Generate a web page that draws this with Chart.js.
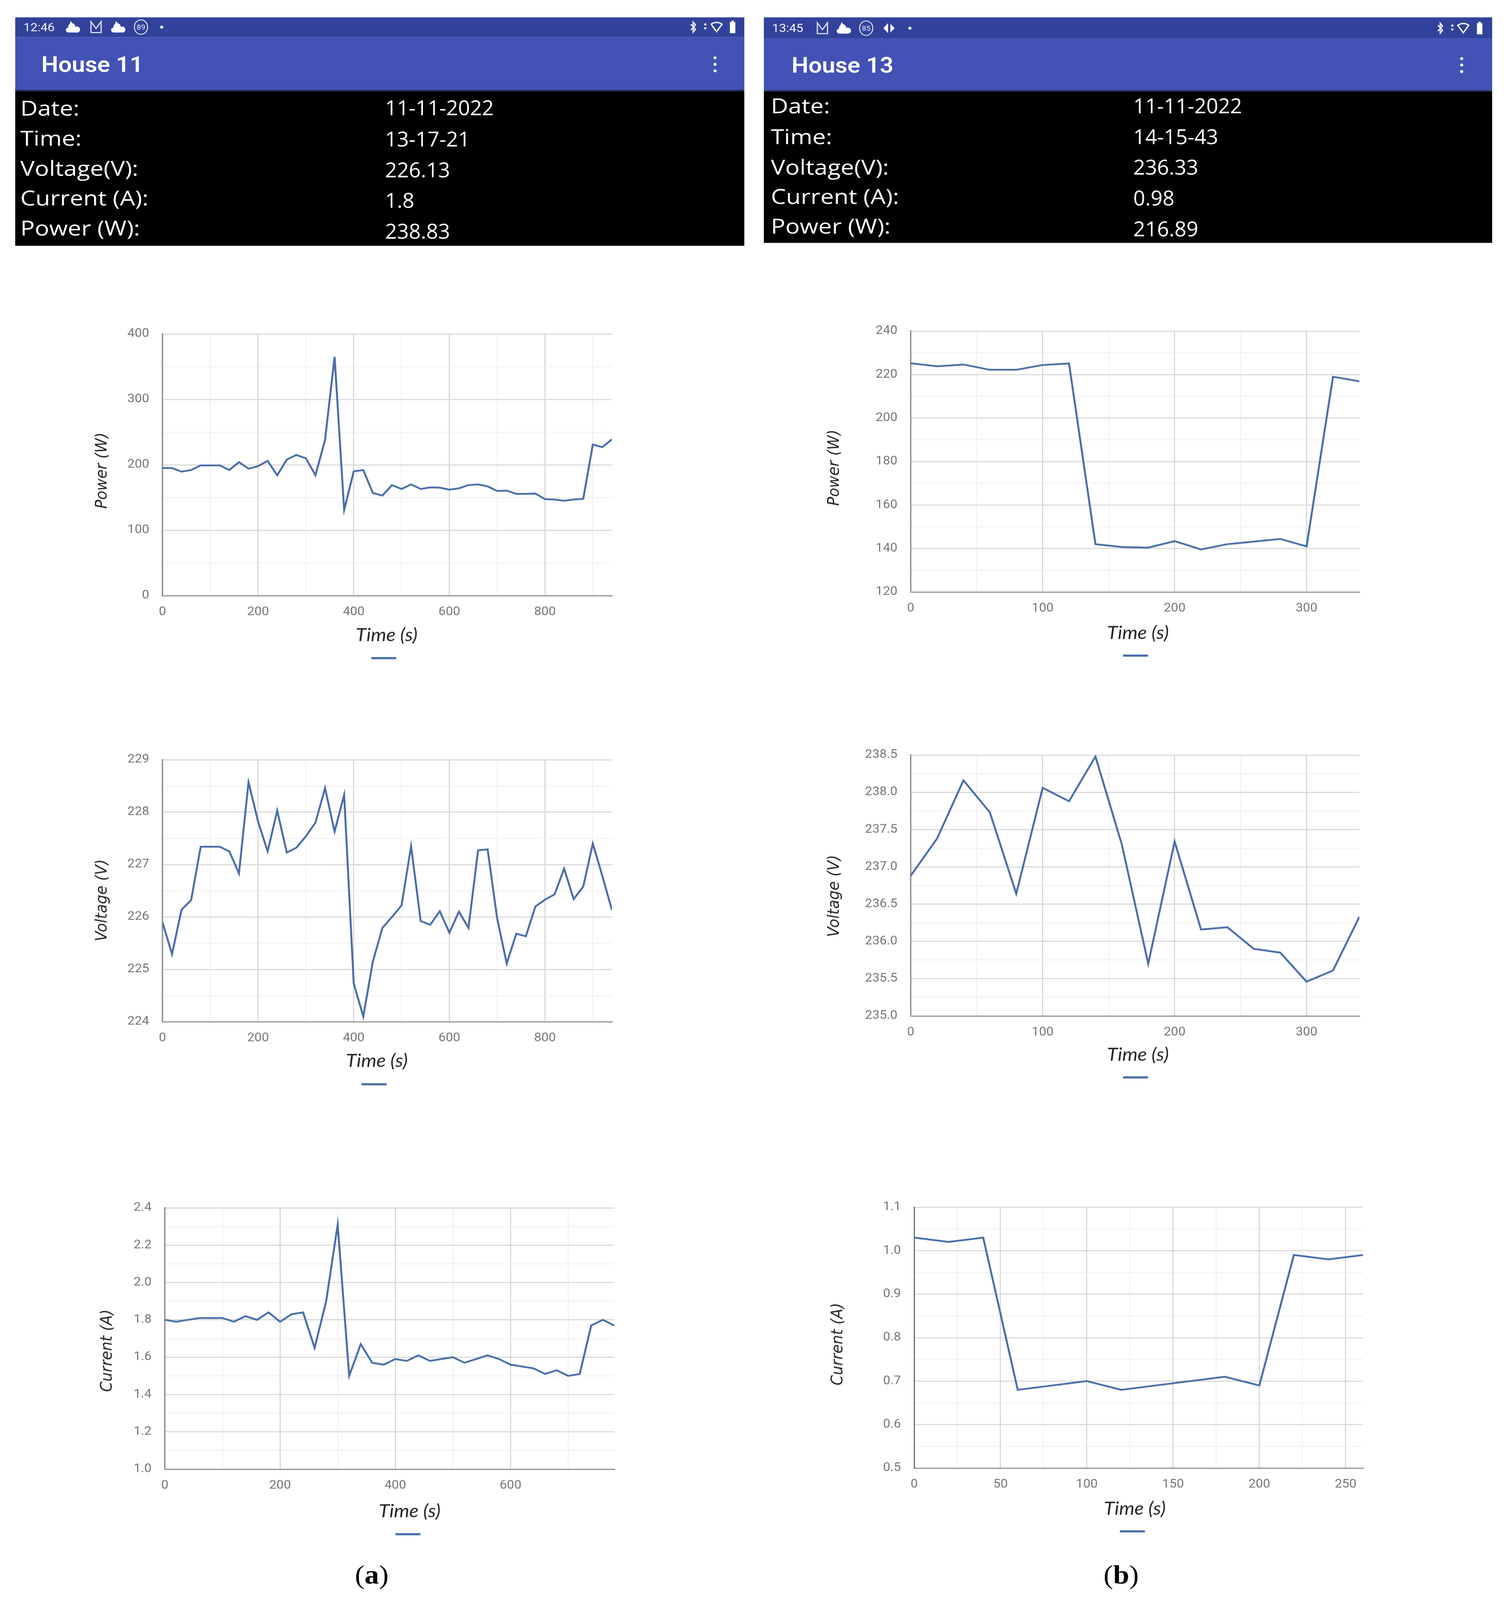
<!DOCTYPE html>
<html><head><meta charset="utf-8">
<script src="https://cdn.jsdelivr.net/npm/chart.js@4"></script>
<style>
html,body{margin:0;padding:0;background:#fff;overflow:hidden}
#page{position:relative;width:3859px;height:4427px;overflow:hidden;background:#fff;transform-origin:0 0}
#page canvas{position:absolute}
.t{position:absolute;white-space:nowrap;transform-origin:left center;line-height:1}
.band{position:absolute}
svg.ic{position:absolute;overflow:visible}
</style></head><body><div id="page"></div>
<script>
// ---------- data ----------
const timeStep = 20;
const powerA = [195,195,189.5,192,199,199,199,192,204,194,198,206,184,208,215,210,184,238,365,131,190,192,157,153,169,163,170,163,165.5,165,162,164,169,170,167,160,160.5,155.5,155.5,156,147.5,147,145,147,148,231,227,238.83];
const voltageA = [225.9,225.29,226.14,226.32,227.34,227.34,227.34,227.25,226.83,228.57,227.82,227.25,228.03,227.23,227.32,227.54,227.8,228.46,227.63,228.33,224.73,224.1,225.15,225.79,226,226.22,227.35,225.92,225.85,226.11,225.7,226.1,225.79,227.27,227.29,225.97,225.11,225.68,225.63,226.2,226.33,226.43,226.92,226.34,226.58,227.4,226.78,226.13];
const currentA = [1.8,1.79,1.8,1.81,1.81,1.81,1.79,1.82,1.8,1.84,1.79,1.83,1.84,1.65,1.9,2.31,1.5,1.67,1.57,1.56,1.59,1.58,1.61,1.58,1.59,1.6,1.57,1.59,1.61,1.59,1.56,1.55,1.54,1.51,1.53,1.5,1.51,1.77,1.8,1.77];
const powerB = [225.2,223.8,224.6,222.2,222.2,224.4,225.1,142,140.7,140.4,143.4,139.6,142,143.2,144.4,141,219,216.89];
const voltageB = [236.88,237.38,238.16,237.73,236.64,238.06,237.88,238.48,237.3,235.7,237.34,236.16,236.19,235.9,235.85,235.46,235.61,236.33];
const currentB = [1.03,1.02,1.03,0.68,0.69,0.7,0.68,0.69,0.7,0.71,0.69,0.99,0.98,0.99];

const headerLabels = ['Date:','Time:','Voltage(V):','Current (A):','Power (W):'];
const headerValuesA = ['11-11-2022','13-17-21','226.13','1.8','238.83'];
const headerValuesB = ['11-11-2022','14-15-43','236.33','0.98','216.89'];

// ---------- page furniture ----------
const page = document.getElementById('page');
// the window can be shorter than the design height: fit the whole figure in it
const fit = Math.min(1, window.innerHeight / 4427);
page.style.transform = `scaleY(${fit})`;
function text(str,x,y,css,sx){const d=document.createElement('div');d.className='t';d.textContent=str;d.style.cssText=`left:${x}px;top:${y}px;transform:translateY(-50%) scaleX(${sx||1});${css}`;page.appendChild(d);return d;}
function rect(x,y,w,h,c){const d=document.createElement('div');d.className='band';d.style.cssText=`left:${x}px;top:${y}px;width:${w}px;height:${h}px;background:${c}`;page.appendChild(d);}
function svg(x,y,inner){const s=document.createElementNS('http://www.w3.org/2000/svg','svg');s.setAttribute('class','ic');s.setAttribute('width','40');s.setAttribute('height','40');s.style.left=(x-20)+'px';s.style.top=(y-20)+'px';s.setAttribute('viewBox','-20 -20 40 40');s.innerHTML=inner;page.appendChild(s);}
const icons={
 cloud:'<path d="M-13 15 a7 7 0 0 1 -1 -14 a8 8 0 0 1 3 -9 l3 -9 l4 6 a10 10 0 0 1 8 10 a8 8 0 0 1 7 16 z" fill="#fff"/>',
 mail:'<path d="M-13 15 V-15 L0 4 L13 -15 V15 Z" fill="none" stroke="#dfe2f4" stroke-width="3"/>',
 dot:'<circle r="4" fill="#fff"/>',
 diamond:'<path d="M-2 -14 L-14 0 L-2 14 Z M4 -12 L15 0 L4 12 Z" fill="#fff"/>',
 bt:'<path d="M-6 -8 L6 6 L0 14 V-14 L6 -6 L-6 8" fill="none" stroke="#fff" stroke-width="3"/>',
 arrows:'<path d="M0 -12 L-4 -5 H4 Z M0 8 L-4 1 H4 Z" fill="#fff"/>',
 wifi:'<path d="M-14 -8 Q0 -18 14 -8 L0 13 Z" fill="none" stroke="#fff" stroke-width="3.5"/>',
 battery:'<path d="M-7 -14 H-3 V-18 H3 V-14 H7 V17 H-7 Z" fill="#fff"/>'
};
function badge(x,y,n){svg(x,y,`<ellipse rx="17" ry="20" fill="none" stroke="#dfe2f4" stroke-width="2.5"/><text x="0" y="7" text-anchor="middle" font-family="Roboto" font-size="20" fill="#dfe2f4">${n}</text>`);}
function header(o){
 rect(o.x,o.y,o.w,o.statusEnd-o.y,'#32429a');
 rect(o.x,o.statusEnd,o.w,o.barEnd-o.statusEnd,'#4252b5');
 rect(o.x,o.barEnd-4,o.w,4,'#2a3570');
 rect(o.x,o.barEnd,o.w,o.end-o.barEnd,'#000');
 text(o.clock,o.clockX,o.clockY,'font:32px Roboto;color:#eef;');
 o.leftIcons.forEach(([k,x])=>{ if(k==='badge') badge(x,o.clockY,o.badge); else svg(x,o.clockY,icons[k]); });
 [['bt',o.rIcons[0]],['arrows',o.rIcons[1]],['wifi',o.rIcons[2]],['battery',o.rIcons[3]]].forEach(([k,x])=>svg(x,o.clockY,icons[k]));
 text(o.title,o.titleX,o.titleY,'font:600 61px Roboto;color:#fff;');
 [-18,0,18].forEach(d=>svg(o.menuX,o.titleY+d,'<circle r="4" fill="#fff"/>'));
 headerLabels.forEach((s,i)=>text(s,o.labelX,o.labelY[i],'font:58px "Open Sans";color:#fff;',1.06));
 o.values.forEach((s,i)=>text(s,o.valueX,o.valueY[i],'font:58px "Open Sans";color:#fff;',0.92));
}
header({x:39,y:48,w:1867,statusEnd:103,barEnd:252,end:680,clock:'12:46',clockX:60,clockY:75,badge:'89',
 leftIcons:[['cloud',189],['mail',246],['cloud',305],['badge',361],['dot',414]],rIcons:[1775,1806,1835,1876],
 title:'House 11',titleX:106,titleY:178,menuX:1831,labelX:52,labelY:[297,381,464,546,629],valueX:986,valueY:[296,383,468,553,638],values:headerValuesA});
header({x:1956,y:48,w:1865,statusEnd:106,barEnd:253,end:672,clock:'13:45',clockX:1977,clockY:78,badge:'85',
 leftIcons:[['mail',2106],['cloud',2163],['badge',2218],['diamond',2276],['dot',2330]],rIcons:[3688,3719,3747,3789],
 title:'House 13',titleX:2027,titleY:180,menuX:3743,labelX:1974,labelY:[291,376,461,542,624],valueX:2902,valueY:[291,376,461,546,631],values:headerValuesB});
function caption(letter,x,y){const d=text('',x,y,'font:74px "Liberation Serif";color:#000;');
 d.style.transform='translate(-50%,-50%)';
 d.append('(');const b=document.createElement('b');b.textContent=letter;d.append(b);d.append(')');}
caption('a',952,4357);caption('b',2871,4357);

// ---------- charts ----------
const BLUE='#4a6ea9';
const placedTitles={
 id:'placedTitles',
 afterLayout(chart){
  const p=chart.options.plugins.placedTitles, L=chart.legend;
  const w=L.right-L.left; L.left=p.legendX-w/2; L.right=p.legendX+w/2; L.top=p.legendY;
 },
 afterDraw(chart){
  const p=chart.options.plugins.placedTitles, c=chart.ctx;
  const xT=chart.scales.x.options.title, yT=chart.scales.y.options.title;
  c.save();c.textAlign='center';c.textBaseline='middle';
  c.fillStyle=xT.color;c.font=`italic 50px Lato`;c.fillText(xT.text,p.xTitleX,p.xTitleY);
  c.translate(p.yTitleX,p.yTitleY);c.rotate(-Math.PI/2);
  c.fillStyle=yT.color;c.font=`oblique 41px "DejaVu Sans"`;c.fillText(yT.text,0,0);
  c.restore();
 }
};
Chart.register(placedTitles);

function panel(o){
 const pad=260, right=12, top=60, below=215;
 const cv=document.createElement('canvas');
 const cx=o.left-pad, cy=o.top-top;
 const W=o.right+right-cx, H=o.bottom+below-cy;
 cv.width=W;cv.height=H;cv.style.left=cx+'px';cv.style.top=cy+'px';cv.style.width=W+'px';cv.style.height=H+'px';
 page.appendChild(cv);
 const near=(v,m)=>Math.abs(v/m-Math.round(v/m))<1e-6;
 const build=(m,lo,hi)=>s=>{const st=m/2,a=[];for(let k=0;lo+k*st<=hi+1e-9;k++)a.push({value:+(lo+k*st).toFixed(6)});s.ticks=a;};
 const gc=(m)=>ctx=>near(ctx.tick.value,m)?'#d8d8d8':'#eeeeee';
 const gw=(m)=>ctx=>near(ctx.tick.value,m)?3:2;
 let xH=below-6;
 const chart=new Chart(cv,{type:'line',
  data:{labels:o.values.map((_,i)=>i*timeStep),
   datasets:[{label:o.yTitle,data:o.values.map((v,i)=>({x:i*timeStep,y:v})),borderColor:BLUE,backgroundColor:BLUE,borderWidth:5,pointRadius:0,tension:0,fill:false}]},
  options:{responsive:false,animation:false,parsing:false,devicePixelRatio:1,
   layout:{padding:{left:0,right:right,top:top,bottom:0}},
   plugins:{tooltip:{enabled:false},title:{display:false},
    legend:{display:true,position:'bottom',labels:{boxWidth:64,boxHeight:6,padding:0,font:{size:1},
      generateLabels:()=>[{text:'',fillStyle:BLUE,strokeStyle:BLUE,lineWidth:0,datasetIndex:0}]}},
    placedTitles:{legendX:o.legendX-cx,legendY:o.legendY-3-cy,xTitleX:o.xTitleX-cx,xTitleY:o.xTitleY-cy,yTitleX:o.yTitleX-cx,yTitleY:o.yTitleY-cy}},
   scales:{
    x:{type:'linear',min:0,max:o.xMax,
     afterFit:s=>{s.height=xH;},
     afterBuildTicks:build(o.xMajor,0,o.xMax),
     ticks:{autoSkip:false,maxRotation:0,padding:26,color:'#757575',font:{family:'Roboto',size:33},
      callback:v=>near(v,o.xMajor)?String(v):''},
     grid:{drawTicks:false,tickLength:0,color:gc(o.xMajor),lineWidth:gw(o.xMajor)},
     border:{display:true,color:o.axisX||'#8c8c8c',width:3},
     title:{display:false,text:'Time (s)',color:'#262626'}},
    y:{type:'linear',min:o.yMin,max:o.yMax,
     afterFit:s=>{s.width=pad;},
     afterBuildTicks:build(o.yMajor,o.yMin,o.yMax),
     ticks:{autoSkip:false,padding:34,color:'#757575',font:{family:'Roboto',size:33},
      callback:v=>near(v,o.yMajor)?v.toFixed(o.dec):''},
     grid:{drawTicks:false,tickLength:0,color:gc(o.yMajor),lineWidth:gw(o.yMajor)},
     border:{display:true,color:o.axisY||'#9a9a9a',width:o.axisYW||4},
     title:{display:false,text:o.yTitle,color:'#262626'}}
   }}});
 // pin the plot area to the intended pixels
 for(let i=0;i<3;i++){
  const ca=chart.chartArea;
  chart.options.layout.padding.top=Math.max(0,chart.options.layout.padding.top+top-ca.top);
  xH+=ca.bottom-(o.bottom-cy);
  chart.options.layout.padding.right+=ca.right-(o.right-cx);
  chart.update();
 }
}
panel({values:powerA,yTitle:'Power (W)',left:416,right:1567,top:924,bottom:1648,xMax:940,xMajor:200,yMin:0,yMax:400,yMajor:100,dec:0,xTitleX:990,xTitleY:1758,yTitleX:262,yTitleY:1302,legendX:983,legendY:1821});
panel({values:voltageA,yTitle:'Voltage (V)',left:416,right:1567,top:2102,bottom:2827,xMax:940,xMajor:200,yMin:224,yMax:229,yMajor:1,dec:0,xTitleX:965,xTitleY:2936,yTitleX:262,yTitleY:2491,legendX:958,legendY:3000});
panel({values:currentA,yTitle:'Current (A)',left:422,right:1573,top:3342,bottom:4065,xMax:780,xMajor:200,yMin:1,yMax:2.4,yMajor:0.2,dec:1,xTitleX:1049,xTitleY:4182,yTitleX:275,yTitleY:3737,legendX:1045,legendY:4245});
panel({values:powerB,yTitle:'Power (W)',left:2332,right:3481,top:916,bottom:1638,xMax:340,xMajor:100,yMin:120,yMax:240,yMajor:20,dec:0,xTitleX:2914,xTitleY:1752,yTitleX:2137,yTitleY:1294,legendX:2908,legendY:1814});
panel({values:voltageB,yTitle:'Voltage (V)',left:2332,right:3481,top:2089,bottom:2811,xMax:340,xMajor:100,yMin:235,yMax:238.5,yMajor:0.5,dec:1,xTitleX:2914,xTitleY:2919,yTitleX:2137,yTitleY:2479,legendX:2908,legendY:2981});
panel({values:currentB,yTitle:'Current (A)',left:2341,right:3490,top:3340,bottom:4062,xMax:260,xMajor:50,yMin:0.5,yMax:1.1,yMajor:0.1,dec:1,xTitleX:2906,xTitleY:4175,yTitleX:2146,yTitleY:3719,legendX:2900,legendY:4237,axisY:'#555',axisYW:2.5});
</script></body></html>
